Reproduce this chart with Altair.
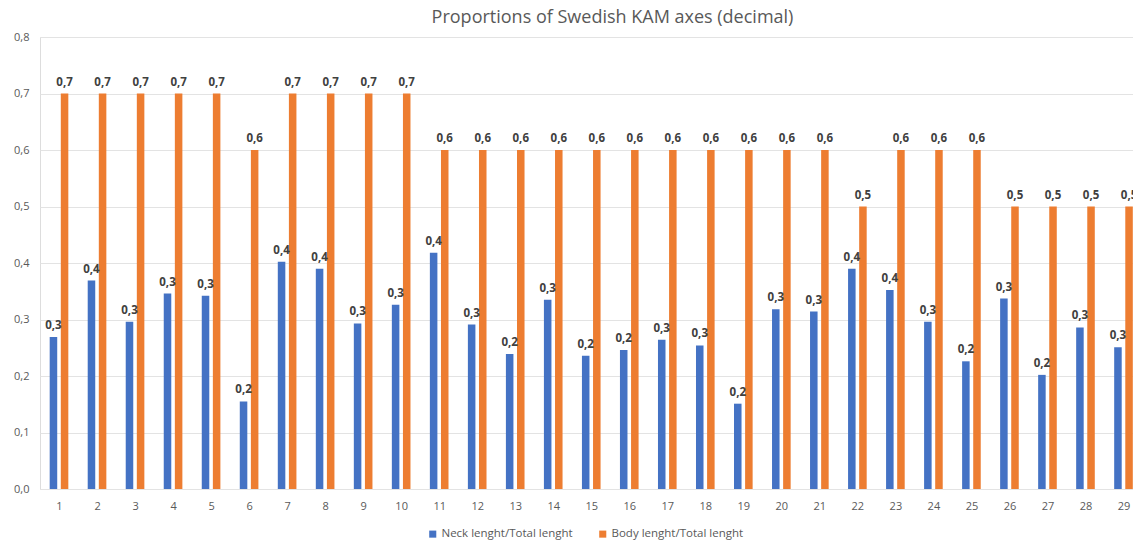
import altair as alt
import pandas as pd

categories = list(range(1, 30))
series_names = ["Neck lenght/Total lenght", "Body lenght/Total lenght"]
neck = [0.269, 0.369, 0.296, 0.346, 0.342, 0.155, 0.402, 0.390, 0.293, 0.326,
        0.418, 0.291, 0.239, 0.335, 0.236, 0.246, 0.264, 0.254, 0.151, 0.318,
        0.314, 0.390, 0.352, 0.296, 0.226, 0.337, 0.202, 0.286, 0.251]
body = [0.7, 0.7, 0.7, 0.7, 0.7, 0.6, 0.7, 0.7, 0.7, 0.7,
        0.6, 0.6, 0.6, 0.6, 0.6, 0.6, 0.6, 0.6, 0.6, 0.6,
        0.6, 0.5, 0.6, 0.6, 0.6, 0.5, 0.5, 0.5, 0.5]
y_ticks = [0.0, 0.1, 0.2, 0.3, 0.4, 0.5, 0.6, 0.7, 0.8]
colors = ["#4472C4", "#ED7D31"]

rows = []
for i, c in enumerate(categories):
    rows.append({"cat": c, "series": series_names[0], "s": 0, "value": neck[i]})
    rows.append({"cat": c, "series": series_names[1], "s": 1, "value": body[i]})
df = pd.DataFrame(rows)

FONT = "Open Sans"

base = alt.Chart(df).transform_calculate(
    x0="datum.cat + (datum.s == 0 ? -0.245 : 0.047)",
    x1="datum.cat + (datum.s == 0 ? -0.047 : 0.245)",
    xc="datum.cat + (datum.s == 0 ? -0.146 : 0.146)",
    lbl="replace(format(datum.value, '.1f'), '.', ',')",
)

xscale = alt.Scale(domain=[0.5, 29.25], nice=False, zero=False)
yscale = alt.Scale(domain=[0, 0.8], nice=False)

x_axis = alt.Axis(values=categories, format="d", grid=False, ticks=False,
                  domain=False, title=None, labelPadding=11,
                  labelOverlap=False, labelFlush=False,
                  labelFontSize=11, labelColor="#595959", labelFont=FONT)

bars = base.mark_bar(clip=True).encode(
    x=alt.X("x0:Q", scale=xscale, axis=x_axis),
    x2="x1:Q",
    y=alt.Y("value:Q", scale=yscale,
            axis=alt.Axis(values=y_ticks,
                          labelExpr="replace(format(datum.value, '.1f'), '.', ',')",
                          grid=True, gridColor="#e3e3e3", ticks=False, domain=False,
                          title=None, labelPadding=11, labelFontSize=11,
                          labelColor="#595959", labelFont=FONT)),
    y2=alt.datum(0),
    color=alt.Color("series:N",
                    scale=alt.Scale(domain=series_names, range=colors),
                    sort=series_names,
                    legend=alt.Legend(title=None, orient="none", direction="horizontal",
                                      legendX=387, legendY=491,
                                      symbolType="square", symbolSize=50,
                                      symbolStrokeWidth=0, labelOffset=3,
                                      labelFontSize=11.5, labelColor="#595959",
                                      labelFont=FONT, columnPadding=24)),
)

labels = base.mark_text(clip=True, baseline="bottom", dy=-6, fontSize=11.5,
                        fontWeight="bold", color="#404040", font=FONT).encode(
    x=alt.X("xc:Q", scale=xscale, axis=x_axis),
    y=alt.Y("value:Q", scale=yscale),
    text="lbl:N",
)

chart = alt.layer(bars, labels).properties(
    width=1093,
    height=452,
    autosize=alt.AutoSizeParams(type="none"),
    padding={"left": 40, "top": 37, "right": 0, "bottom": 54},
    title=alt.TitleParams("Proportions of Swedish KAM axes (decimal)",
                          fontSize=18, font=FONT, fontWeight="normal",
                          color="#595959", anchor="middle", dx=26, dy=26,
                          baseline="bottom", offset=12),
).configure_view(stroke=None).configure(background="white")

chart.save("out.html", embed_options={"renderer": "svg", "actions": False})
